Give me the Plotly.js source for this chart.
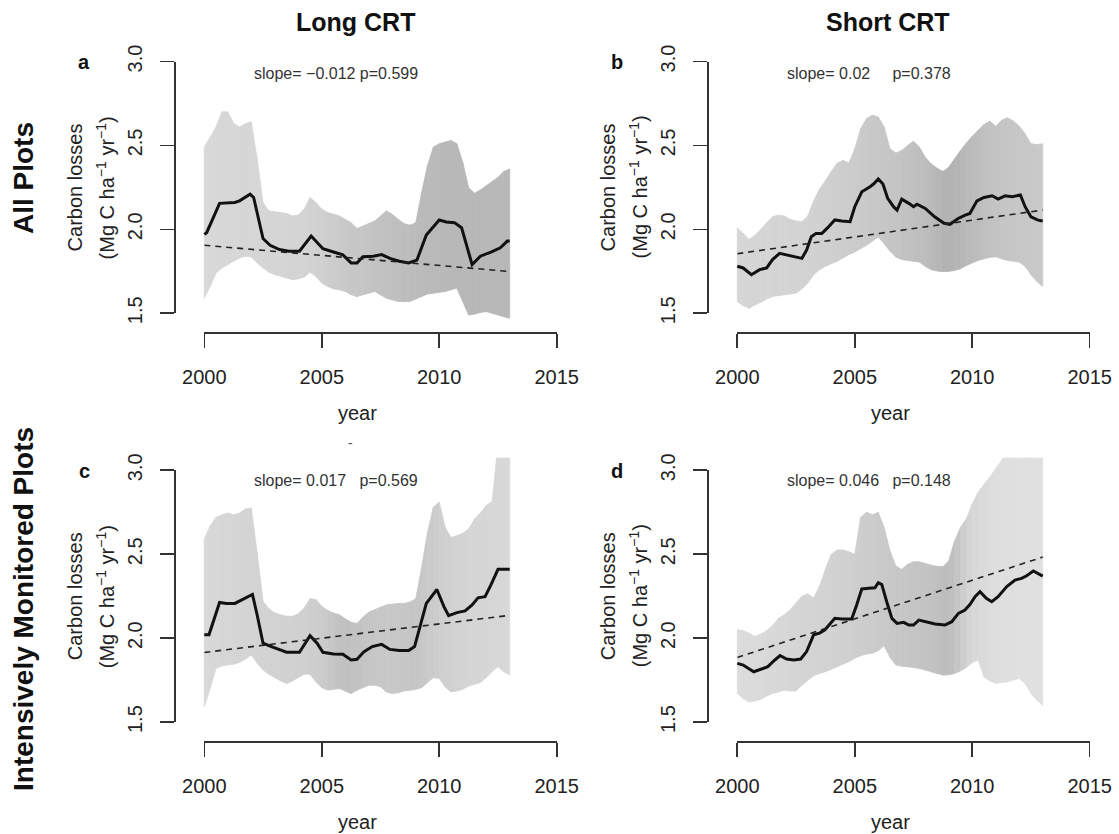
<!DOCTYPE html>
<html>
<head>
<meta charset="utf-8">
<script src="https://cdn.plot.ly/plotly-3.0.1.min.js"></script>
<style>
  html, body { margin: 0; padding: 0; background: #ffffff; }
  #chart { width: 1119px; height: 834px; }
</style>
</head>
<body>
<div id="chart"></div>
<script>
// ---------- data ----------
// Grid of years on which the confidence bands are given
const bandYears = [2000, 2000.25, 2000.5, 2000.75, 2001, 2001.25, 2001.5, 2001.75, 2002, 2002.25, 2002.5, 2002.75,
  2003, 2003.25, 2003.5, 2003.75, 2004, 2004.25, 2004.5, 2004.75, 2005, 2005.25, 2005.5, 2005.75,
  2006, 2006.25, 2006.5, 2006.75, 2007, 2007.25, 2007.5, 2007.75, 2008, 2008.25, 2008.5, 2008.75,
  2009, 2009.25, 2009.5, 2009.75, 2010, 2010.25, 2010.5, 2010.75, 2011, 2011.25, 2011.5, 2011.75,
  2012, 2012.25, 2012.5, 2012.75, 2013];

// Panel a: Long CRT, all plots
const meanYearsA = [2000.0, 2000.1, 2000.65, 2001.3, 2001.5, 2001.95, 2002.1, 2002.5, 2002.8, 2003.2, 2003.6, 2004.05,
  2004.55, 2005.05, 2005.5, 2005.9, 2006.25, 2006.5, 2006.75, 2007.2, 2007.55, 2007.9, 2008.3, 2008.7, 2009.05,
  2009.45, 2010.0, 2010.3, 2010.65, 2010.95, 2011.4, 2011.75, 2012.2, 2012.6, 2012.9, 2013.0];
const meanA = [1.97, 1.98, 2.155, 2.16, 2.17, 2.21, 2.19, 1.945, 1.905, 1.88, 1.87, 1.87,
  1.96, 1.885, 1.865, 1.848, 1.80, 1.80, 1.837, 1.84, 1.85, 1.827, 1.81, 1.80, 1.817,
  1.966, 2.056, 2.044, 2.04, 2.01, 1.79, 1.84, 1.865, 1.89, 1.93, 1.93];
const upperA = [2.49, 2.55, 2.61, 2.70, 2.70, 2.63, 2.61, 2.63, 2.64, 2.42, 2.16, 2.11, 2.105, 2.10, 2.095, 2.08,
  2.085, 2.12, 2.19, 2.16, 2.12, 2.10, 2.09, 2.08, 2.06, 2.04, 2.005, 2.02, 2.035, 2.05, 2.08, 2.11, 2.09, 2.06,
  2.035, 2.025, 2.04, 2.22, 2.38, 2.49, 2.51, 2.52, 2.53, 2.51, 2.40, 2.25, 2.215, 2.235, 2.26, 2.285, 2.31, 2.345, 2.36];
const lowerA = [1.59, 1.66, 1.74, 1.77, 1.79, 1.81, 1.83, 1.84, 1.835, 1.80, 1.77, 1.745, 1.73, 1.72, 1.71, 1.70,
  1.705, 1.715, 1.745, 1.72, 1.68, 1.66, 1.645, 1.64, 1.63, 1.61, 1.60, 1.61, 1.62, 1.63, 1.61, 1.59, 1.58, 1.57,
  1.57, 1.57, 1.585, 1.60, 1.615, 1.62, 1.625, 1.63, 1.64, 1.65, 1.57, 1.49, 1.495, 1.505, 1.51, 1.50, 1.49, 1.48, 1.47];
const slopeA = -0.012, pA = 0.599, trendStartA = 1.905;

// Panel b: Short CRT, all plots
const meanYearsB = [2000.0, 2000.25, 2000.6, 2000.95, 2001.25, 2001.5, 2001.8, 2002.15, 2002.45, 2002.75, 2002.95,
  2003.15, 2003.35, 2003.6, 2003.85, 2004.15, 2004.45, 2004.8, 2005.0, 2005.3, 2005.65, 2005.8, 2006.0, 2006.2,
  2006.4, 2006.65, 2006.8, 2007.0, 2007.3, 2007.5, 2007.65, 2008.0, 2008.4, 2008.8, 2009.05, 2009.4, 2009.7,
  2009.9, 2010.2, 2010.5, 2010.85, 2011.1, 2011.4, 2011.7, 2012.05, 2012.25, 2012.5, 2012.8, 2013.0];
const meanB = [1.78, 1.77, 1.73, 1.76, 1.77, 1.82, 1.857, 1.847, 1.84, 1.827, 1.877,
  1.956, 1.976, 1.976, 2.01, 2.056, 2.05, 2.046, 2.135, 2.224, 2.254, 2.27, 2.30, 2.27,
  2.185, 2.135, 2.115, 2.18, 2.155, 2.135, 2.15, 2.125, 2.075, 2.036, 2.03, 2.065, 2.085,
  2.095, 2.17, 2.19, 2.20, 2.18, 2.20, 2.195, 2.205, 2.135, 2.075, 2.055, 2.05];
const upperB = [2.01, 1.975, 1.94, 1.965, 2.00, 2.04, 2.075, 2.085, 2.08, 2.06, 2.05, 2.046, 2.08, 2.17, 2.24, 2.29,
  2.345, 2.395, 2.41, 2.395, 2.48, 2.60, 2.66, 2.68, 2.67, 2.61, 2.48, 2.455, 2.47, 2.50, 2.525, 2.49, 2.43, 2.39,
  2.365, 2.345, 2.37, 2.42, 2.47, 2.515, 2.555, 2.59, 2.625, 2.645, 2.615, 2.65, 2.665, 2.645, 2.615, 2.57, 2.51, 2.505, 2.51];
const lowerB = [1.57, 1.545, 1.53, 1.55, 1.565, 1.585, 1.60, 1.605, 1.61, 1.615, 1.62, 1.645, 1.68, 1.73, 1.76, 1.78,
  1.795, 1.81, 1.83, 1.85, 1.865, 1.885, 1.905, 1.93, 1.955, 1.915, 1.87, 1.835, 1.82, 1.815, 1.81, 1.805, 1.78, 1.76,
  1.752, 1.748, 1.75, 1.755, 1.765, 1.785, 1.80, 1.815, 1.825, 1.833, 1.837, 1.825, 1.815, 1.81, 1.805, 1.78, 1.73, 1.69, 1.66];
const slopeB = 0.02, pB = 0.378, trendStartB = 1.855;

// Panel c: Long CRT, intensively monitored plots
const meanYearsC = [2000.0, 2000.2, 2000.65, 2000.95, 2001.3, 2001.6, 2001.85, 2002.05, 2002.25, 2002.5, 2002.8,
  2003.15, 2003.5, 2004.05, 2004.3, 2004.5, 2004.8, 2005.05, 2005.5, 2005.9, 2006.25, 2006.5, 2006.8, 2007.15,
  2007.55, 2007.9, 2008.3, 2008.7, 2008.95, 2009.2, 2009.45, 2009.9, 2010.2, 2010.4, 2010.75, 2011.1, 2011.4,
  2011.65, 2011.95, 2012.2, 2012.5, 2013.0];
const meanC = [2.02, 2.02, 2.213, 2.207, 2.207, 2.227, 2.247, 2.26, 2.138, 1.97, 1.953,
  1.935, 1.916, 1.916, 1.97, 2.015, 1.97, 1.916, 1.906, 1.904, 1.87, 1.874, 1.92, 1.95,
  1.963, 1.933, 1.926, 1.926, 1.95, 2.08, 2.207, 2.29, 2.188, 2.134, 2.152, 2.162, 2.198,
  2.24, 2.247, 2.317, 2.41, 2.41];
const upperC = [2.59, 2.67, 2.72, 2.735, 2.745, 2.735, 2.745, 2.77, 2.775, 2.51, 2.22, 2.175, 2.15, 2.14, 2.13, 2.13,
  2.145, 2.18, 2.235, 2.23, 2.19, 2.165, 2.15, 2.14, 2.115, 2.095, 2.088, 2.125, 2.155, 2.17, 2.185, 2.198, 2.203,
  2.207, 2.207, 2.215, 2.235, 2.42, 2.63, 2.78, 2.81, 2.66, 2.60, 2.61, 2.625, 2.65, 2.71, 2.745, 2.79, 2.815, 3.15, 3.15, 3.15];
const lowerC = [1.59, 1.70, 1.82, 1.835, 1.84, 1.845, 1.855, 1.875, 1.90, 1.85, 1.81, 1.785, 1.765, 1.745, 1.73, 1.745,
  1.765, 1.785, 1.785, 1.74, 1.705, 1.69, 1.695, 1.70, 1.685, 1.67, 1.69, 1.705, 1.72, 1.72, 1.71, 1.68, 1.67, 1.675,
  1.685, 1.69, 1.695, 1.705, 1.735, 1.765, 1.76, 1.71, 1.68, 1.685, 1.695, 1.715, 1.725, 1.735, 1.765, 1.80, 1.83, 1.80, 1.78];
const slopeC = 0.017, pC = 0.569, trendStartC = 1.915;

// Panel d: Short CRT, intensively monitored plots
const meanYearsD = [2000.0, 2000.25, 2000.7, 2001.05, 2001.3, 2001.6, 2001.82, 2002.1, 2002.4, 2002.7, 2002.95,
  2003.25, 2003.5, 2003.73, 2003.95, 2004.15, 2004.45, 2004.87, 2005.08, 2005.3, 2005.6, 2005.86, 2006.0, 2006.15,
  2006.36, 2006.58, 2006.8, 2007.08, 2007.3, 2007.5, 2007.73, 2008.08, 2008.42, 2008.84, 2009.13, 2009.41, 2009.69,
  2009.9, 2010.12, 2010.33, 2010.6, 2010.83, 2011.1, 2011.47, 2011.82, 2012.1, 2012.3, 2012.6, 2013.0];
const meanD = [1.85, 1.84, 1.80, 1.816, 1.83, 1.87, 1.896, 1.876, 1.87, 1.876, 1.92,
  2.02, 2.03, 2.05, 2.088, 2.118, 2.114, 2.114, 2.198, 2.293, 2.297, 2.30, 2.33, 2.32,
  2.217, 2.118, 2.088, 2.094, 2.078, 2.078, 2.108, 2.094, 2.084, 2.078, 2.098, 2.148, 2.168,
  2.20, 2.247, 2.277, 2.237, 2.217, 2.247, 2.307, 2.346, 2.356, 2.37, 2.40, 2.37];
const upperD = [2.05, 2.045, 2.03, 2.01, 2.025, 2.045, 2.075, 2.118, 2.14, 2.17, 2.21, 2.25, 2.265, 2.24, 2.31, 2.41,
  2.50, 2.525, 2.525, 2.515, 2.50, 2.72, 2.75, 2.735, 2.75, 2.66, 2.52, 2.43, 2.41, 2.44, 2.455, 2.455, 2.445, 2.435,
  2.428, 2.426, 2.46, 2.58, 2.66, 2.71, 2.80, 2.87, 2.915, 2.96, 3.01, 3.06, 3.12, 3.15, 3.15, 3.15, 3.15, 3.15, 3.15];
const lowerD = [1.67, 1.64, 1.62, 1.625, 1.635, 1.655, 1.67, 1.68, 1.69, 1.685, 1.685, 1.72, 1.75, 1.775, 1.79, 1.80,
  1.815, 1.83, 1.845, 1.86, 1.88, 1.895, 1.905, 1.91, 1.925, 1.955, 1.885, 1.84, 1.833, 1.83, 1.825, 1.82, 1.81, 1.80,
  1.79, 1.78, 1.782, 1.79, 1.805, 1.825, 1.855, 1.87, 1.77, 1.745, 1.73, 1.735, 1.74, 1.75, 1.76, 1.73, 1.67, 1.63, 1.60];
const slopeD = 0.046, pD = 0.148, trendStartD = 1.885;

// Yearly grey level of the band (2000 ... 2013), darker where more plots contribute
const shadeYears = [2000, 2001, 2002, 2003, 2004, 2005, 2006, 2007, 2008, 2009, 2010, 2011, 2012, 2013];
const shadeA = [216, 215, 214, 213, 212, 208, 201, 196, 191, 187, 185, 184, 184, 184];
const shadeB = [214, 213, 212, 210, 207, 203, 199, 195, 189, 178, 187, 196, 199, 201];
const shadeC = [216, 214, 212, 210, 208, 205, 191, 198, 200, 197, 206, 212, 214, 216];
const shadeD = [220, 218, 215, 212, 210, 206, 202, 198, 196, 188, 215, 222, 224, 224];

// Text
const columnTitles = ['Long CRT', 'Short CRT'];
const rowTitles = ['All Plots', 'Intensively Monitored Plots'];
const panelLetters = ['a', 'b', 'c', 'd'];
const yTitleLine1 = 'Carbon losses';
const yTitleLine2 = '(Mg C ha<sup>\u22121</sup> yr<sup>\u22121</sup>)';
const xTitle = 'year';
const xTicks = [2000, 2005, 2010, 2015];
const yTicks = [1.5, 2.0, 2.5, 3.0];
const yTickText = ['1.5', '2.0', '2.5', '3.0'];

// ---------- layout geometry (pixels) ----------
const W = 1119, H = 834;
const G = { axisX: 174, x2000: 204.3, x2015: 556.7, y30: 61.5, y15: 313.3, axisY: 332.3,
            right: 572, topVal: 3.075, colStep: 533, rowStep: 408.8 };
const FONT = 'Liberation Sans, Arial, Helvetica, sans-serif';

const panels = [
  { col: 0, row: 0, my: meanYearsA, mean: meanA, up: upperA, lo: lowerA, shade: shadeA, slope: slopeA, p: pA, start: trendStartA, gap: 1 },
  { col: 1, row: 0, my: meanYearsB, mean: meanB, up: upperB, lo: lowerB, shade: shadeB, slope: slopeB, p: pB, start: trendStartB, gap: 5 },
  { col: 0, row: 1, my: meanYearsC, mean: meanC, up: upperC, lo: lowerC, shade: shadeC, slope: slopeC, p: pC, start: trendStartC, gap: 3 },
  { col: 1, row: 1, my: meanYearsD, mean: meanD, up: upperD, lo: lowerD, shade: shadeD, slope: slopeD, p: pD, start: trendStartD, gap: 3 }
];

const pxPerYear = (G.x2015 - G.x2000) / 15;
const pxPerUnit = (G.y15 - G.y30) / 1.5;

function greyAt(shade, yr) {
  const i = Math.min(Math.floor(yr - shadeYears[0]), shade.length - 2);
  const f = yr - shadeYears[i];
  const g = Math.round(shade[i] + (shade[i + 1] - shade[i]) * f);
  return 'rgb(' + g + ',' + g + ',' + g + ')';
}
function fmt(v) { return String(v).replace('-', '\u2212'); }

const traces = [];
const layout = {
  width: W, height: H,
  margin: { l: 0, r: 0, t: 0, b: 0, pad: 0 },
  paper_bgcolor: '#ffffff', plot_bgcolor: 'rgba(0,0,0,0)',
  showlegend: false,
  font: { family: FONT, color: '#222' },
  annotations: []
};
const base = { xref: 'paper', yref: 'paper', showarrow: false, xanchor: 'center', yanchor: 'middle' };
function note(px, py, text, size, color, angle) {
  const a = Object.assign({}, base, { x: px / W, y: 1 - py / H, text: text,
    font: { family: FONT, size: size, color: color } });
  if (angle) a.textangle = angle;
  layout.annotations.push(a);
}

panels.forEach((P, k) => {
  const n = k + 1, m = k + 5;
  const ox = P.col * G.colStep, oy = P.row * G.rowStep;
  const xa = 'x' + n, ya = 'y' + n, xd = 'x' + m, yd = 'y' + m;
  const xaKey = n === 1 ? 'xaxis' : 'xaxis' + n, yaKey = n === 1 ? 'yaxis' : 'yaxis' + n;

  // data axes span the full plotting region and stay hidden
  layout[xaKey] = {
    domain: [(G.axisX + ox) / W, (G.right + ox) / W],
    range: [2000 + (G.axisX - G.x2000) / pxPerYear, 2000 + (G.right - G.x2000) / pxPerYear],
    visible: false, fixedrange: true, anchor: ya
  };
  const topPx = G.y30 - (G.topVal - 3.0) * pxPerUnit;
  layout[yaKey] = {
    domain: [1 - (G.axisY + oy) / H, 1 - (topPx + oy) / H],
    range: [1.5 - (G.axisY - G.y15) / pxPerUnit, G.topVal],
    visible: false, fixedrange: true, anchor: xa
  };

  // visible axes, detached from the plotting region
  layout['xaxis' + m] = {
    domain: [(G.x2000 + ox) / W, (G.x2015 + ox) / W], range: [2000, 2015],
    anchor: 'free', position: 1 - (G.axisY + oy) / H,
    showline: true, linecolor: '#333', linewidth: 1.6,
    ticks: 'outside', ticklen: 14, tickwidth: 1.6, tickcolor: '#333',
    tickvals: xTicks, ticktext: xTicks.map(String), ticklabelstandoff: 12,
    tickfont: { family: FONT, size: 20, color: '#222' },
    showgrid: false, zeroline: false, fixedrange: true
  };
  layout['yaxis' + m] = {
    domain: [1 - (G.y15 + oy) / H, 1 - (G.y30 + oy) / H], range: [1.5, 3.0],
    anchor: 'free', position: (G.axisX + ox) / W,
    showline: true, linecolor: '#333', linewidth: 1.6,
    ticks: 'outside', ticklen: 14, tickwidth: 1.6, tickcolor: '#333',
    tickvals: yTicks, ticktext: yTickText, tickangle: -90, ticklabelstandoff: 10,
    tickfont: { family: FONT, size: 20, color: '#222' },
    showgrid: false, zeroline: false, fixedrange: true
  };

  // shaded band, one strip per grid step
  for (let i = 0; i < bandYears.length - 1; i++) {
    const col = greyAt(P.shade, (bandYears[i] + bandYears[i + 1]) / 2);
    traces.push({
      type: 'scatter', mode: 'lines', xaxis: xa, yaxis: ya, hoverinfo: 'skip',
      x: [bandYears[i], bandYears[i + 1], bandYears[i + 1], bandYears[i], bandYears[i]],
      y: [P.lo[i], P.lo[i + 1], P.up[i + 1], P.up[i], P.lo[i]],
      fill: 'toself', fillcolor: col, line: { color: col, width: 0.8 }
    });
  }

  // running mean
  traces.push({
    type: 'scatter', mode: 'lines', xaxis: xa, yaxis: ya, hoverinfo: 'skip',
    x: P.my, y: P.mean, line: { color: '#111', width: 3 }
  });

  // linear trend from the reported slope
  const tx = [2000, 2013];
  traces.push({
    type: 'scatter', mode: 'lines', xaxis: xd, yaxis: yd, hoverinfo: 'skip',
    x: tx, y: tx.map(t => P.start + P.slope * (t - 2000)),
    line: { color: '#222', width: 1.6, dash: '6px,5px' }
  });

  note(84 + ox, 62 + oy, '<b>' + panelLetters[k] + '</b>', 20, '#111');
  note(336 + ox, 73 + oy + (P.row ? -1 : 0),
       'slope= ' + fmt(P.slope) + '\u00A0'.repeat(P.gap) + 'p=' + P.p, 16, '#333');
  const yMid = (G.y15 + G.y30) / 2 + oy;
  note(75 + ox, yMid, yTitleLine1, 20, '#222', -90);
  note(105 + ox, yMid, yTitleLine2, 20, '#222', -90);
  note(357.5 + ox, 412.7 + oy, xTitle, 20, '#222');
});

// column and row headings
note(355, 22, '<b>' + columnTitles[0] + '</b>', 25, '#111');
note(888, 22, '<b>' + columnTitles[1] + '</b>', 25, '#111');
note(23, 178, '<b>' + rowTitles[0] + '</b>', 28, '#111', -90);
note(23, 609, '<b>' + rowTitles[1] + '</b>', 28, '#111', -90);
// small dash between the rows
note(350, 443, '-', 14, '#555');

Plotly.newPlot('chart', traces, layout, { staticPlot: true, displayModeBar: false });
</script>
</body>
</html>
